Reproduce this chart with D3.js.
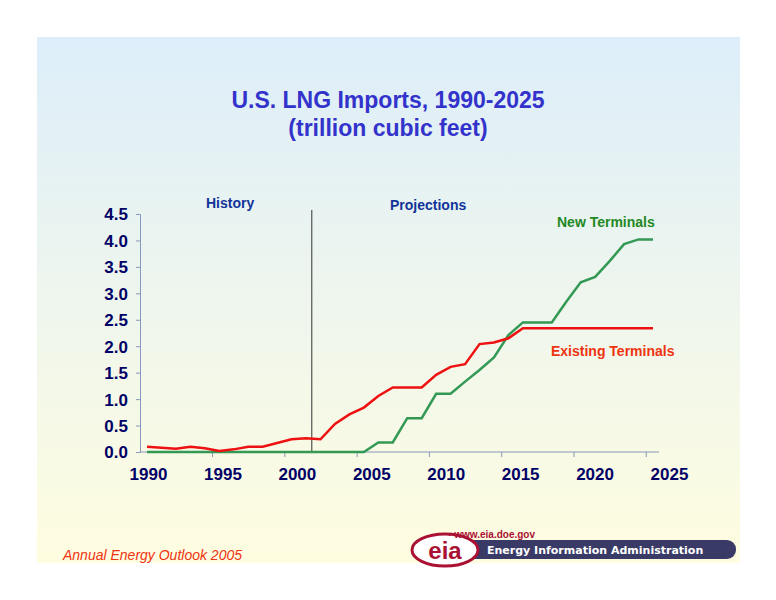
<!DOCTYPE html>
<html><head><meta charset="utf-8">
<script src="https://cdn.jsdelivr.net/npm/d3@7"></script>
<style>body{margin:0;background:#fff}</style>
</head><body><div id="chart"></div>
<script>
const years = d3.range(1990, 2026);
const existing = [0.10,0.08,0.06,0.10,0.07,0.02,0.05,0.10,0.10,0.17,0.24,0.26,0.24,0.53,0.71,0.84,1.06,1.22,1.22,1.22,1.46,1.61,1.66,2.04,2.07,2.15,2.34,2.34,2.34,2.34,2.34,2.34,2.34,2.34,2.34,2.34];
const newTerm = [0,0,0,0,0,0,0,0,0,0,0,0,0,0,0,0,0.18,0.18,0.64,0.64,1.10,1.10,1.33,1.55,1.79,2.21,2.45,2.45,2.45,2.84,3.21,3.31,3.61,3.93,4.02,4.02];
const yTicks = [0,0.5,1,1.5,2,2.5,3,3.5,4,4.5];
const xLabels = [1990,1995,2000,2005,2010,2015,2020,2025];

const svg = d3.select("#chart").append("svg").attr("width", 776).attr("height", 600);
const grad = svg.append("defs").append("linearGradient").attr("id", "bg")
    .attr("x1", 0).attr("y1", 0).attr("x2", 0).attr("y2", 1);
grad.append("stop").attr("offset", "0%").attr("stop-color", "#ddeefa");
grad.append("stop").attr("offset", "100%").attr("stop-color", "#fffde0");
svg.append("rect").attr("x", 37).attr("y", 37).attr("width", 703).attr("height", 526).attr("fill", "url(#bg)");

svg.append("text").attr("x", 388).attr("y", 108).attr("text-anchor", "middle")
    .style("font", "bold 23px Arial, 'Liberation Sans', sans-serif").attr("fill", "#3333cc").text("U.S. LNG Imports, 1990-2025");
svg.append("text").attr("x", 388).attr("y", 136).attr("text-anchor", "middle")
    .style("font", "bold 23px Arial, 'Liberation Sans', sans-serif").attr("fill", "#3333cc").text("(trillion cubic feet)");

const x = d3.scaleLinear().domain([1990, 2025]).range([147, 653]);
const xLab = d3.scaleLinear().domain([1990, 2025]).range([148, 669]);
const y = d3.scaleLinear().domain([0, 4.5]).range([452, 214]);

// axes
const yAxis = svg.append("g").attr("transform", "translate(140,0)")
    .call(d3.axisLeft(y).tickValues(yTicks).tickSize(4).tickFormat(d3.format(".1f")));
yAxis.select(".domain").attr("stroke", "#8899bb");
yAxis.selectAll(".tick line").attr("stroke", "#8899bb");
yAxis.selectAll("text").attr("x", -12).attr("dy", "0.35em")
    .style("font", "bold 17px Arial, 'Liberation Sans', sans-serif").attr("fill", "#000066");

const xAxis = svg.append("g").attr("transform", "translate(0,452)")
    .call(d3.axisBottom(x).tickValues([1994.5,1999.5,2004.5,2009.5,2014.5,2019.5,2024.5]).tickSize(5).tickFormat(""));
xAxis.select(".domain").attr("d", "M140,0H659").attr("stroke", "#8899bb");
xAxis.selectAll(".tick line").attr("stroke", "#8899bb");

const xLabAxis = svg.append("g").attr("transform", "translate(0,458)")
    .call(d3.axisBottom(xLab).tickValues(xLabels).tickSize(0).tickFormat(d3.format("d")));
xLabAxis.select(".domain").remove();
xLabAxis.selectAll("text").attr("dy", "1.1em")
    .style("font", "bold 17px Arial, 'Liberation Sans', sans-serif").attr("fill", "#000066");

// divider
svg.append("line").attr("x1", x(2001.4)).attr("x2", x(2001.4)).attr("y1", 210).attr("y2", 452)
    .attr("stroke", "#333").attr("stroke-width", 1);

const line = d3.line().x((d, i) => x(years[i])).y(d => y(d));
svg.append("path").datum(newTerm).attr("d", line).attr("fill", "none").attr("stroke", "#339955").attr("stroke-width", 2.5);
svg.append("path").datum(existing).attr("d", line).attr("fill", "none").attr("stroke", "#ee1111").attr("stroke-width", 2.5);

const lab = (t, px, py, c, s) => svg.append("text").attr("x", px).attr("y", py)
    .style("font", "bold " + s + "px Arial, 'Liberation Sans', sans-serif").attr("fill", c).text(t);
lab("History", 206, 208, "#113399", 14);
lab("Projections", 390, 210, "#113399", 14);
lab("New Terminals", 557, 227, "#228822", 14);
lab("Existing Terminals", 551, 356, "#ee3311", 14);

svg.append("text").attr("x", 63).attr("y", 560).style("font", "italic 14px Arial, 'Liberation Sans', sans-serif")
    .attr("fill", "#ee3311").text("Annual Energy Outlook 2005");

// logo
svg.append("rect").attr("x", 440).attr("y", 540).attr("width", 296).attr("height", 19).attr("rx", 9).attr("fill", "#3a3a66");
svg.append("text").attr("x", 487).attr("y", 554).style("font", "bold 11px Verdana, 'DejaVu Sans', sans-serif")
    .attr("fill", "#ffffff").text("Energy Information Administration");
svg.append("ellipse").attr("cx", 445).attr("cy", 550).attr("rx", 33).attr("ry", 16).attr("fill", "#fff").attr("stroke", "#aa1133").attr("stroke-width", 3);
svg.append("text").attr("x", 445).attr("y", 559).attr("text-anchor", "middle")
    .style("font", "bold 24px Arial, 'Liberation Sans', sans-serif").attr("fill", "#aa1133").text("eia");
svg.append("text").attr("x", 448).attr("y", 538).style("font", "bold 10px Arial, 'Liberation Sans', sans-serif")
    .attr("fill", "#aa1133").text("• www.eia.doe.gov");
</script></body></html>
